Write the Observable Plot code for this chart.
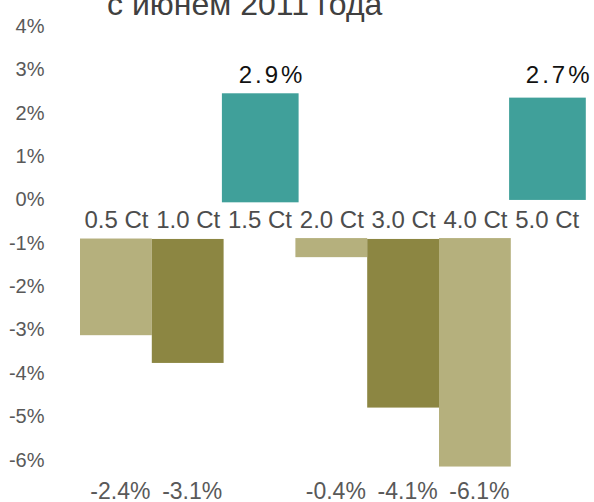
<!DOCTYPE html>
<html>
<head>
<meta charset="utf-8">
<script src="https://cdn.jsdelivr.net/npm/d3@7"></script>
<script src="https://cdn.jsdelivr.net/npm/@observablehq/plot@0.6"></script>
<style>
  html, body { margin: 0; padding: 0; background: #fff; }
  #wrap { position: relative; width: 594px; height: 502px; overflow: hidden; font-family: "Liberation Sans", Arial, sans-serif; }
  #title { position: absolute; left: 107px; top: -12px; font-size: 32px; line-height: 32px; color: #404040; white-space: nowrap; z-index: 2; }
  #chart { position: absolute; left: 0; top: 0; }
</style>
</head>
<body>
<div id="wrap">
  <div id="title">с июнем 2011 года</div>
  <div id="chart"></div>
</div>
<script>
// Categories and value labels
const categories = ["0.5 Ct", "1.0 Ct", "1.5 Ct", "2.0 Ct", "3.0 Ct", "4.0 Ct", "5.0 Ct"];
const values = [-2.4, -3.1, 2.9, -0.4, -4.1, -6.1, 2.7];
// Bar extents as drawn in the picture (in % on the axis)
const barStart = [-0.90, -0.91, -0.065, -0.89, -0.91, -0.89, -0.01];
const barEnd = [-3.13, -3.77, 2.45, -1.33, -4.80, -6.16, 2.35];
const barColors = ["#b5b07d", "#8c8642", "#40a09a", "#b5b07d", "#8c8642", "#b5b07d", "#40a09a"];
const yTicks = [-6, -5, -4, -3, -2, -1, 0, 1, 2, 3, 4];

const data = categories.map((c, i) => ({
  cat: c, value: values[i], start: barStart[i], end: barEnd[i], color: barColors[i]
}));
const pos = data.filter(d => d.value >= 0);
const neg = data.filter(d => d.value < 0);
const fmt = v => v.toFixed(1) + "%";

const chart = Plot.plot({
  width: 594,
  height: 502,
  marginLeft: 80,
  marginRight: 11.4,
  marginTop: 0,
  marginBottom: 0,
  style: { fontFamily: "'Liberation Sans', Arial, sans-serif", color: "#595959", background: "transparent" },
  x: { domain: categories, padding: 0, round: false, axis: null },
  y: { domain: [-6.978, 4.602], label: null, axis: null },
  marks: [
    Plot.axisY({ ticks: yTicks, tickSize: 0, tickPadding: 36, tickFormat: d => d + "%", fontSize: 20, fill: "#595959" }),
    Plot.barY(neg, { x: "cat", y1: "start", y2: "end", fill: "color" }),
    Plot.barY(pos, { x: "cat", y1: "start", y2: "end", fill: "color", insetLeft: -1.7, insetRight: -3.2 }),
    Plot.text(categories, { x: d => d, frameAnchor: "top", dy: 227, lineAnchor: "bottom", fontSize: 24, fill: "#4d4d4d" }),
    Plot.text(neg, { x: "cat", text: d => fmt(d.value), frameAnchor: "bottom", dy: -4, lineAnchor: "bottom", dx: 4, fontSize: 23, fill: "#595959" }),
    Plot.text(pos, { x: "cat", text: d => fmt(d.value), frameAnchor: "top", dy: 82, lineAnchor: "bottom", dx: 12, fontSize: 24, fill: "#111" })
  ]
});
// widen the letter spacing of the positive value labels (last text mark)
const groups = d3.select(chart).selectAll("g").filter(function () {
  return this.getAttribute("aria-label") === "text";
}).nodes();
if (groups.length) {
  d3.select(groups[groups.length - 1]).selectAll("text").style("letter-spacing", "3px");
}
document.getElementById("chart").appendChild(chart);
</script>
</body>
</html>
